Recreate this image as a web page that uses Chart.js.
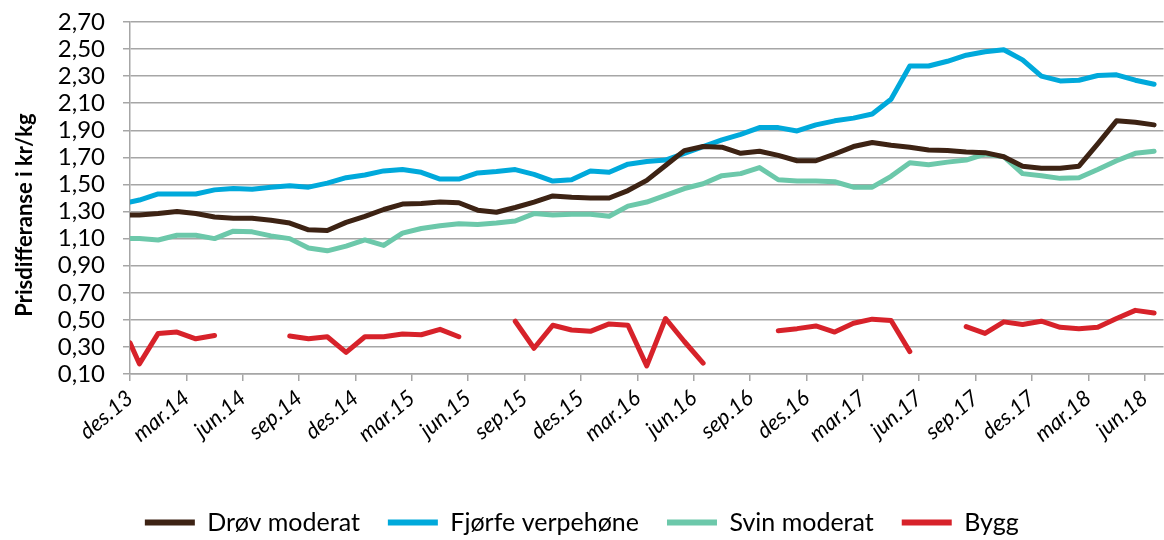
<!DOCTYPE html>
<html>
<head>
<meta charset="utf-8">
<script src="https://cdn.jsdelivr.net/npm/chart.js@4.4.1/dist/chart.umd.min.js"></script>
<style>
  html, body { margin: 0; padding: 0; background: #ffffff; }
  #wrap { width: 1164px; height: 540px; }
</style>
</head>
<body>
<div id="wrap"><canvas id="c" width="1164" height="540"></canvas></div>
<script>
// Observation dates, in months after des.13 (first value at des.13, then mid-month)
const periods = [0, 0.5, 1.5, 2.5, 3.5, 4.5, 5.5, 6.5, 7.5, 8.5, 9.5, 10.5, 11.5, 12.5, 13.5,
  14.5, 15.5, 16.5, 17.5, 18.5, 19.5, 20.5, 21.5, 22.5, 23.5, 24.5, 25.5, 26.5, 27.5,
  28.5, 29.5, 30.5, 31.5, 32.5, 33.5, 34.5, 35.5, 36.5, 37.5, 38.5, 39.5, 40.5, 41.5,
  42.5, 43.5, 44.5, 45.5, 46.5, 47.5, 48.5, 49.5, 50.5, 51.5, 52.5, 53.5, 54.5];

// Tick labels (every third month) and their month positions
const tickMonths = [0, 3, 6, 9, 12, 15, 18, 21, 24, 27, 30, 33, 36, 39, 42, 45, 48, 51, 54];
const tickLabels = ['des.13', 'mar.14', 'jun.14', 'sep.14', 'des.14', 'mar.15', 'jun.15', 'sep.15',
  'des.15', 'mar.16', 'jun.16', 'sep.16', 'des.16', 'mar.17', 'jun.17', 'sep.17', 'des.17',
  'mar.18', 'jun.18'];

const drovModerat = [1.275, 1.275, 1.285, 1.30, 1.285, 1.26, 1.25, 1.25, 1.235, 1.215, 1.165, 1.16,
  1.22, 1.265, 1.315, 1.355, 1.36, 1.37, 1.365, 1.31, 1.295, 1.33, 1.37, 1.415, 1.405, 1.40, 1.40,
  1.455, 1.53, 1.64, 1.75, 1.78, 1.775, 1.73, 1.745, 1.715, 1.675, 1.675, 1.725, 1.78, 1.81, 1.79,
  1.775, 1.755, 1.75, 1.74, 1.735, 1.705, 1.635, 1.62, 1.62, 1.635, 1.80, 1.97, 1.96, 1.94];

const fjorfeVerpehone = [1.37, 1.385, 1.43, 1.43, 1.43, 1.46, 1.47, 1.465, 1.48, 1.49, 1.48, 1.51,
  1.55, 1.57, 1.60, 1.61, 1.59, 1.54, 1.54, 1.585, 1.595, 1.61, 1.575, 1.525, 1.535, 1.60, 1.59,
  1.65, 1.67, 1.68, 1.73, 1.78, 1.83, 1.87, 1.92, 1.92, 1.895, 1.94, 1.97, 1.99, 2.02, 2.13,
  2.375, 2.375, 2.41, 2.455, 2.48, 2.495, 2.42, 2.30, 2.265, 2.27, 2.305, 2.31, 2.27, 2.24];

const svinModerat = [1.10, 1.10, 1.09, 1.125, 1.125, 1.10, 1.155, 1.15, 1.12, 1.10, 1.03, 1.01,
  1.045, 1.09, 1.05, 1.14, 1.175, 1.195, 1.21, 1.205, 1.215, 1.23, 1.285, 1.275, 1.28, 1.28, 1.265,
  1.34, 1.37, 1.42, 1.47, 1.505, 1.565, 1.58, 1.625, 1.535, 1.525, 1.525, 1.52, 1.48, 1.48, 1.56,
  1.66, 1.645, 1.665, 1.68, 1.725, 1.705, 1.58, 1.565, 1.545, 1.55, 1.61, 1.675, 1.73, 1.745];

const bygg = [0.33, 0.175, 0.40, 0.41, 0.36, 0.385, null, null, null, 0.38, 0.36, 0.375, 0.26,
  0.375, 0.375, 0.395, 0.39, 0.43, 0.375, null, null, 0.49, 0.29, 0.46, 0.425, 0.415, 0.47, 0.46,
  0.16, 0.51, 0.34, 0.18, null, null, null, 0.42, 0.435, 0.455, 0.41, 0.475, 0.505, 0.495, 0.265,
  null, null, 0.45, 0.40, 0.485, 0.465, 0.49, 0.445, 0.435, 0.445, 0.51, 0.57, 0.55];

const seriesNames = ['Drøv moderat', 'Fjørfe verpehøne', 'Svin moderat', 'Bygg'];
const seriesColors = ['#3d2314', '#00a9db', '#6cc8aa', '#d7222a'];
const seriesValues = [drovModerat, fjorfeVerpehone, svinModerat, bygg];
const yTitle = 'Prisdifferanse i kr/kg';

const FONT = 'Lato, "Open Sans", sans-serif';

const datasets = seriesNames.map((name, i) => ({
  label: name,
  data: periods.map((p, j) => ({ x: p, y: seriesValues[i][j] })),
  borderColor: seriesColors[i],
  backgroundColor: seriesColors[i],
  borderWidth: 5,
  borderCapStyle: 'round',
  borderJoinStyle: 'round',
  pointRadius: 0,
  pointHoverRadius: 0,
  tension: 0,
  spanGaps: false
}));

const defaultGen = Chart.defaults.plugins.legend.labels.generateLabels;

// Y-axis title, drawn vertically centred like the original
const yTitlePlugin = {
  id: 'yTitle',
  afterDraw(chart) {
    const ctx = chart.ctx;
    ctx.save();
    ctx.translate(25, 215);
    ctx.rotate(-Math.PI / 2);
    ctx.font = 'bold 22px ' + FONT;
    ctx.fillStyle = '#000';
    ctx.textAlign = 'center';
    ctx.textBaseline = 'middle';
    ctx.fillText(yTitle, 0, 0);
    ctx.restore();
  }
};

new Chart(document.getElementById('c'), {
  type: 'line',
  data: { datasets },
  plugins: [yTitlePlugin],
  options: {
    responsive: false,
    animation: false,
    devicePixelRatio: 1,
    layout: { padding: { left: 0, right: 0.5, top: 22, bottom: -5 } },
    plugins: {
      tooltip: { enabled: false },
      legend: {
        position: 'bottom',
        labels: {
          boxWidth: 50,
          boxHeight: 6,
          padding: 28,
          color: '#000',
          font: { family: FONT, size: 25 },
          generateLabels: (chart) => defaultGen(chart).map(l => Object.assign(l, { lineWidth: 0 }))
        }
      }
    },
    scales: {
      x: {
        type: 'linear',
        min: 0,
        max: 55,
        afterBuildTicks: (scale) => { scale.ticks = tickMonths.map(v => ({ value: v })); },
        afterFit: (scale) => { scale.height = 108; scale.paddingLeft = 0; scale.paddingRight = 0; },
        ticks: {
          autoSkip: false,
          minRotation: 40,
          maxRotation: 40,
          padding: 4,
          color: '#000',
          font: { family: FONT, size: 22, style: 'italic' },
          callback: (v) => { const k = tickMonths.indexOf(v); return k >= 0 ? tickLabels[k] : ''; }
        },
        grid: { drawOnChartArea: false, drawTicks: true, tickLength: 7, color: '#a6a6a6', lineWidth: 1.5 },
        border: { display: true, color: '#a6a6a6', width: 1.5 }
      },
      y: {
        type: 'linear',
        min: 0.1,
        max: 2.7,
        afterFit: (scale) => { scale.width = 130; scale.paddingTop = 0; scale.paddingBottom = 0; },
        ticks: {
          autoSkip: false,
          stepSize: 0.2,
          padding: 18,
          color: '#000',
          font: { family: FONT, size: 24 },
          callback: (v) => v.toFixed(2).replace('.', ',')
        },
        title: { display: false },
        grid: { color: '#a6a6a6', lineWidth: 1.5, tickLength: 7 },
        border: { display: true, color: '#a6a6a6', width: 1.5 }
      }
    }
  }
});
</script>
</body>
</html>
